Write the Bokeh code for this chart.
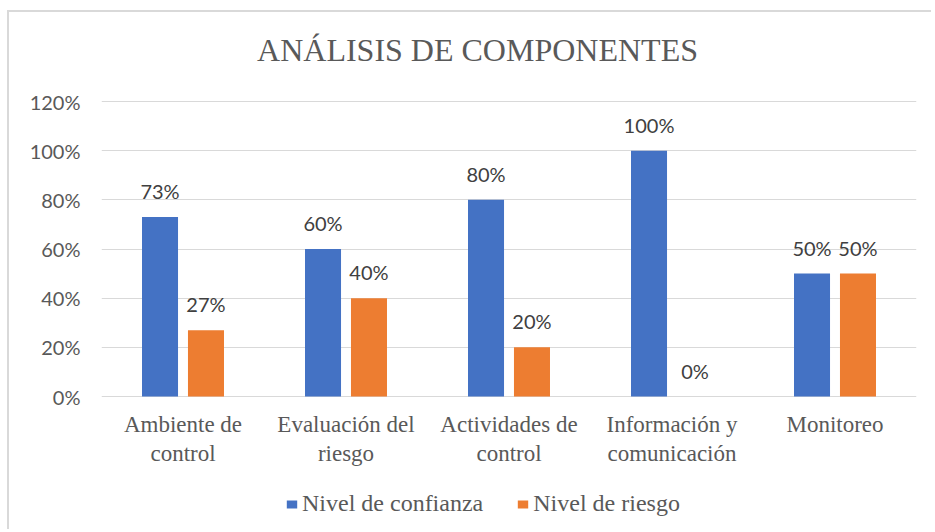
from bokeh.plotting import figure
from bokeh.models import (ColumnDataSource, Range1d, FixedTicker, NumeralTickFormatter,
                          LabelSet, Label, Legend, LegendItem)
from bokeh.core.properties import value
from bokeh.embed import file_html
from bokeh.resources import INLINE

categories = ["Ambiente de\ncontrol", "Evaluación del\nriesgo", "Actividades de\ncontrol",
              "Información y\ncomunicación", "Monitoreo"]
confianza = [0.73, 0.60, 0.80, 1.00, 0.50]
riesgo = [0.27, 0.40, 0.20, 0.00, 0.50]
series_names = ["Nivel de confianza", "Nivel de riesgo"]
y_ticks = [0, 0.2, 0.4, 0.6, 0.8, 1.0, 1.2]
title_text = "ANÁLISIS DE COMPONENTES"

BLUE = "#4472C4"
ORANGE = "#ED7D31"
GRAY = "#595959"
GRID = "#d9d9d9"

centers = [i + 0.5 for i in range(len(categories))]
off = 0.141
bw = 0.221

src_a = ColumnDataSource(dict(x=[c - off for c in centers], top=confianza,
                              lab=[f"{round(v*100)}%" for v in confianza]))
src_b = ColumnDataSource(dict(x=[c + off for c in centers], top=riesgo,
                              lab=[f"{round(v*100)}%" for v in riesgo]))
src_cat = ColumnDataSource(dict(x=centers, y=[0] * len(centers), name=categories))

# value axis 0..1.2 occupies 295 px; the frame extends above/below it to hold
# the title, category names and legend
PX = 295 / 1.2
p = figure(frame_width=815, frame_height=508, output_backend="svg", toolbar_location=None,
           x_range=Range1d(0, len(categories)),
           y_range=Range1d(-131 / PX, 377 / PX),
           min_border_left=101, min_border_right=15, min_border_top=19, min_border_bottom=2)
p.outline_line_color = None
p.background_fill_color = "white"
p.border_fill_alpha = 0
p.styles = {
    "background": ("linear-gradient(#d9d9d9,#d9d9d9) 7px 10px / 2px 100% no-repeat, "
                   "linear-gradient(#d9d9d9,#d9d9d9) 7px 10px / 100% 2px no-repeat, white"),
}

r_a = p.vbar(x="x", top="top", width=bw, source=src_a, fill_color=BLUE, line_color=None)
r_b = p.vbar(x="x", top="top", width=bw, source=src_b, fill_color=ORANGE, line_color=None)

for src in (src_a, src_b):
    p.add_layout(LabelSet(x="x", y="top", text="lab", source=src, y_offset=26,
                          text_align="center", text_baseline="middle",
                          text_font=value("Lato"), text_font_size="20px", text_color="#404040"))

# category names under the bars
p.text(x="x", y="y", text="name", source=src_cat, y_offset=15,
       text_align="center", text_baseline="top", text_line_height=1.17,
       text_font=value("Liberation Serif"), text_font_size="23px", text_color=GRAY)

p.xaxis.visible = False

p.yaxis.ticker = FixedTicker(ticks=y_ticks)
p.yaxis.formatter = NumeralTickFormatter(format="0%")
p.yaxis.major_label_text_font = "Lato"
p.yaxis.major_label_text_font_size = "20px"
p.yaxis.major_label_text_color = GRAY
p.yaxis.major_tick_line_color = None
p.yaxis.minor_tick_line_color = None
p.yaxis.axis_line_color = None
p.yaxis.major_label_standoff = 15

p.xgrid.grid_line_color = None
p.ygrid.ticker = FixedTicker(ticks=y_ticks)
p.ygrid.grid_line_color = GRID
p.ygrid.grid_line_width = 1

p.add_layout(Label(x=2.307, y=347 / PX, text=title_text, text_align="center",
                   text_baseline="middle", text_font="Liberation Serif",
                   text_font_size="32px", text_color=GRAY))

legend = Legend(items=[LegendItem(label=series_names[0], renderers=[r_a]),
                       LegendItem(label=series_names[1], renderers=[r_b])],
                orientation="horizontal", location=(184, 10),
                label_text_font="Liberation Serif", label_text_font_size="24px",
                label_text_color=GRAY, glyph_width=13, glyph_height=10,
                label_standoff=4, spacing=33, border_line_color=None,
                background_fill_alpha=0, margin=0, padding=0)
p.add_layout(legend, "center")

open("out.html", "w").write(file_html(p, INLINE))
